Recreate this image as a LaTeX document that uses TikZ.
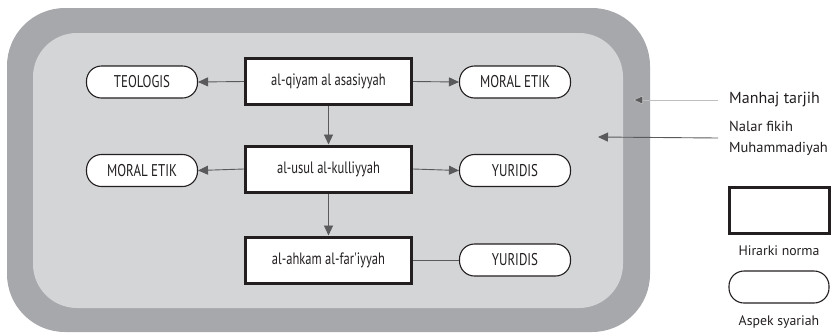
\documentclass[tikz,border=0pt]{standalone}
\usepackage{fontspec}
\setmainfont{PT Sans}
\newfontfamily\condfont[FakeStretch=0.76]{PT Sans}
\usetikzlibrary{arrows.meta}
\definecolor{outerband}{HTML}{A7A8AB}
\definecolor{innerfill}{HTML}{D4D5D7}
\definecolor{ink}{HTML}{231F20}
\definecolor{linegray}{HTML}{5A5A5C}
\tikzset{
  normbox/.style={draw=ink, line width=3pt, fill=white, minimum width=166pt, minimum height=46pt, inner sep=0pt, font=\condfont\fontsize{16.5}{18}\selectfont, text=ink},
  pill/.style={draw=ink, line width=1.1pt, fill=white, rounded corners=15pt, minimum width=111pt, minimum height=32pt, inner sep=0pt, font=\condfont\fontsize{17}{18}\selectfont, text=ink},
  arr/.style={draw=linegray, line width=0.9pt, -{Triangle[length=10pt,width=9pt]}},
  plainline/.style={draw=linegray, line width=0.9pt},
  legendtext/.style={text=ink, align=left, inner sep=0pt}
}
\begin{document}
\begin{tikzpicture}[x=1pt,y=-1pt]
\useasboundingbox (0,0) rectangle (831,333);
% background frames
\fill[outerband, rounded corners=58pt] (7,8) rectangle (650,332);
\fill[innerfill, rounded corners=44pt] (33,33) rectangle (623,308);
% hierarchy boxes
\node[normbox] (b1) at (328.5,81.5) {al-qiyam al asasiyyah};
\node[normbox] (b2) at (328.5,169) {al-usul al-kulliyyah};
\node[normbox] (b3) at (328.5,260) {al-ahkam al-far'iyyah};
% pills
\node[pill] (l1) at (142,82) {TEOLOGIS};
\node[pill] (l2) at (142,170.5) {MORAL ETIK};
\node[pill] (r1) at (515,82) {MORAL ETIK};
\node[pill] (r2) at (515,170.5) {YURIDIS};
\node[pill] (r3) at (515,260) {YURIDIS};
% connectors
\draw[arr] (b1.west) -- (l1.east);
\draw[arr] (b1.east) -- (r1.west);
\draw[arr] (b2.west) -- (l2.east);
\draw[arr] (b2.east) -- (r2.west);
\draw[arr] (b1.south) -- (b2.north);
\draw[arr] (b2.south) -- (b3.north);
\draw[plainline] (b3.east) -- (r3.west);
% legend labels
\node[legendtext, anchor=west, font=\fontsize{16}{21}\selectfont] (manhaj) at (729,100) {Manhaj tarjih};
\node[legendtext, anchor=west, font=\fontsize{14.5}{21}\selectfont] (nalar) at (729,138) {Nalar fikih\\Muhammadiyah};
\coordinate (manhajtip) at (633,100);
\coordinate (nalartip) at (598,137);
\draw[draw=black!25, line width=0.6pt, -{Triangle[length=10pt,width=9pt,fill=linegray]}] ([xshift=-11pt]manhaj.west) -- (manhajtip);
\draw[arr] ([xshift=-11pt]nalar.west) -- (nalartip);
% legend shapes
\node[normbox, minimum width=100pt, minimum height=46pt] (legbox) at (779,210) {};
\node[legendtext, anchor=center, font=\fontsize{13.8}{16}\selectfont] (legboxtext) at (779,251) {Hirarki norma};
\node[pill, minimum width=100pt, minimum height=32pt] (legpill) at (779,287) {};
\node[legendtext, anchor=center, font=\fontsize{13.8}{16}\selectfont] (legpilltext) at (779,322) {Aspek syariah};
\end{tikzpicture}
\end{document}
